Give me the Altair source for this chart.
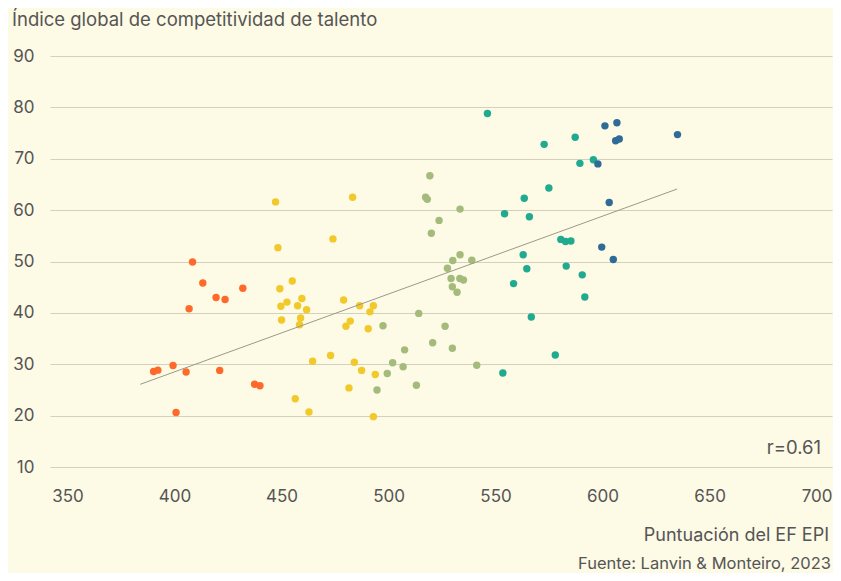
import altair as alt
import pandas as pd

# Orange group
x_orange = [408.4, 413.2, 419.4, 423.6, 431.9, 406.8, 390.2, 392.2, 399.3, 405.4, 421.1, 437.4, 439.9, 400.7]
y_orange = [49.9, 45.8, 43.0, 42.6, 44.8, 40.8, 28.6, 28.85, 29.75, 28.5, 28.8, 26.1, 25.8, 20.6]

# Yellow group
x_yellow = [447.2, 483.2, 448.3, 474.0, 455.0, 449.2, 452.5, 459.5, 449.7, 457.5, 461.7, 479.0, 486.5,
            492.9, 491.3, 450.0, 458.9, 458.4, 482.1, 480.1, 490.5, 464.5, 472.9, 484.0, 487.4, 493.8,
            481.5, 456.4, 462.8, 492.9]
y_yellow = [61.6, 62.5, 52.7, 54.4, 46.2, 44.7, 42.1, 42.8, 41.3, 41.4, 40.6, 42.5, 41.4,
            41.4, 40.2, 38.6, 39.0, 37.7, 38.4, 37.4, 36.9, 30.6, 31.7, 30.4, 28.8, 28.0,
            25.4, 23.3, 20.7, 19.8]

# Olive group
x_olive = [497.4, 507.5, 501.9, 506.8, 499.4, 494.6, 519.3, 517.3, 518.1, 533.4, 523.6, 520.0, 533.4,
           530.0, 538.9, 527.5, 529.2, 533.3, 535.0, 529.8, 532.0, 514.1, 526.4, 520.6, 529.8, 541.2, 513.0]
y_olive = [37.5, 32.8, 30.3, 29.5, 28.2, 25.0, 66.7, 62.5, 62.1, 60.2, 58.0, 55.5, 51.3,
           50.2, 50.25, 48.7, 46.7, 46.7, 46.4, 45.1, 44.0, 39.9, 37.4, 34.2, 33.1, 29.8, 25.9]

# Teal group
x_teal = [546.2, 572.7, 587.2, 589.4, 595.7, 574.9, 563.4, 554.2, 565.8, 580.5, 582.7, 585.2, 562.9,
          564.6, 583.0, 590.5, 558.4, 591.7, 566.7, 577.9, 553.4]
y_teal = [78.8, 72.8, 74.2, 69.1, 69.8, 64.3, 62.3, 59.3, 58.7, 54.3, 53.9, 54.0, 51.3,
          48.6, 49.1, 47.4, 45.7, 43.1, 39.2, 31.8, 28.3]

# Blue group
x_blue = [597.8, 601.1, 606.7, 606.1, 607.8, 635.0, 603.1, 599.6, 605.0]
y_blue = [69.0, 76.4, 77.0, 73.5, 73.85, 74.7, 61.5, 52.8, 50.4]

# Trend line endpoints
line_x = [384.0, 634.8]
line_y = [26.1, 64.1]

groups = ["g1", "g2", "g3", "g4", "g5"]
colors = ["#ff6a2b", "#f2c92a", "#a4bb7c", "#20aa90", "#2e6c97"]

rows = []
for g, xs, ys in zip(groups, [x_orange, x_yellow, x_olive, x_teal, x_blue],
                     [y_orange, y_yellow, y_olive, y_teal, y_blue]):
    for a, b in zip(xs, ys):
        rows.append({"epi": a, "gtci": b, "grupo": g})
df = pd.DataFrame(rows)
line_df = pd.DataFrame({"epi": line_x, "gtci": line_y})

FONT = "Inter"
TEXT = "#555555"
W, H = 782, 411

xs = alt.Scale(domain=[341.8, 707.2], nice=False, zero=False)
ys = alt.Scale(domain=[10, 90], nice=False, zero=False)

points = alt.Chart(df).mark_circle(size=55, opacity=1).encode(
    x=alt.X("epi:Q", scale=xs, axis=alt.Axis(
        values=[350, 400, 450, 500, 550, 600, 650, 700], grid=False, domain=False, ticks=False,
        labelPadding=21, labelFontSize=17, labelColor=TEXT, labelFont=FONT, title=None)),
    y=alt.Y("gtci:Q", scale=ys, axis=alt.Axis(
        values=[10, 20, 30, 40, 50, 60, 70, 80, 90], grid=True, gridColor="#d4d0be", gridWidth=1.2,
        domain=False, ticks=False, labelPadding=16, labelFontSize=17, labelColor=TEXT,
        labelFont=FONT, labelBaseline="middle", title=None)),
    color=alt.Color("grupo:N", scale=alt.Scale(domain=groups, range=colors), legend=None),
)

trend = alt.Chart(line_df).mark_line(color="#9a9a8a", strokeWidth=1).encode(
    x=alt.X("epi:Q", scale=xs), y=alt.Y("gtci:Q", scale=ys)
)

def label(text, x, y, align, size, baseline="middle"):
    return alt.Chart(pd.DataFrame({"t": [text]})).mark_text(
        align=align, baseline=baseline, fontSize=size, font=FONT, color=TEXT
    ).encode(text="t:N", x=alt.value(x), y=alt.value(y))

title = label("Índice global de competitividad de talento", -38, -30, "left", 18.5, "alphabetic")
rtxt = label("r=0.61", 771, 392, "right", 18.5)
xtitle = label("Puntuación del EF EPI", 779, 480, "right", 18)
source = label("Fuente: Lanvin & Monteiro, 2023", 781, 508, "right", 16.5)

chart = alt.layer(points, trend, title, rtxt, xtitle, source).properties(
    width=W, height=H,
    autosize=alt.AutoSizeParams(type="none"),
    padding={"left": 42, "top": 48, "right": 1, "bottom": 106},
    background="#fdfae5",
).configure_view(stroke=None)

chart.save("out.html", embed_options={"renderer": "svg", "actions": False})
